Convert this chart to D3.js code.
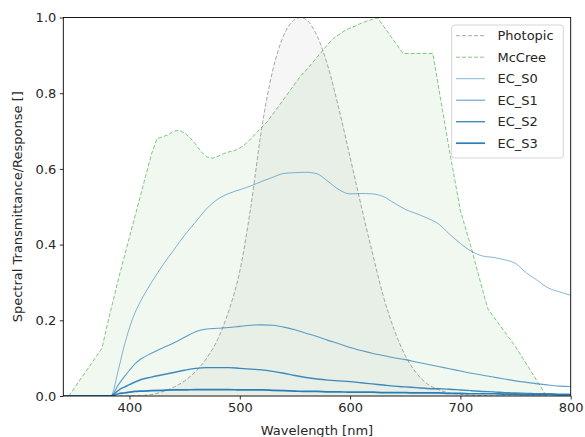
<!DOCTYPE html>
<html>
<head>
<meta charset="utf-8">
<script src="https://cdn.jsdelivr.net/npm/d3@7"></script>
<style>
  html, body { margin: 0; padding: 0; background: #fff; }
  svg { display: block; }
  text { font-family: "DejaVu Sans", sans-serif; fill: #262626; }
</style>
</head>
<body>
<svg id="chart" width="585" height="437"></svg>
<script>
// ---- data ----
const xTicks = [400, 500, 600, 700, 800];
const yTicks = [0.0, 0.2, 0.4, 0.6, 0.8, 1.0];

const photopicWl = [380, 390, 400, 410, 420, 430, 440, 450, 460, 470, 480, 490, 500, 510, 520, 530, 540, 550, 555, 560, 570, 580, 590, 600, 610, 620, 630, 640, 650, 660, 670, 680, 690, 700, 710, 720, 730, 740, 750, 760, 770, 780];
const photopicVals = [0.0000, 0.0001, 0.0004, 0.0012, 0.004, 0.0116, 0.023, 0.04, 0.065, 0.1, 0.15, 0.225, 0.33, 0.5, 0.71, 0.862, 0.954, 0.995, 1.0, 0.995, 0.952, 0.87, 0.757, 0.631, 0.503, 0.381, 0.265, 0.175, 0.107, 0.061, 0.032, 0.017, 0.0082, 0.0041, 0.0021, 0.001, 0.0005, 0.00025, 0.00012, 0.00006, 0.00003, 0.000015];

const mccreeWl = [345, 375, 380, 385, 390, 400, 410, 420, 425, 430, 435, 440, 445, 450, 455, 460, 465, 470, 475, 480, 485, 490, 495, 500, 505, 510, 515, 520, 525, 530, 535, 540, 545, 550, 555, 560, 565, 570, 575, 580, 585, 590, 595, 600, 605, 610, 615, 620, 625, 648, 675, 690, 700, 710, 722, 725, 750, 763, 778];
const mccreeVals = [0.0, 0.126, 0.19, 0.25, 0.31, 0.42, 0.53, 0.64, 0.68, 0.685, 0.69, 0.70, 0.702, 0.695, 0.682, 0.665, 0.645, 0.632, 0.628, 0.633, 0.64, 0.645, 0.648, 0.655, 0.665, 0.68, 0.695, 0.71, 0.725, 0.745, 0.765, 0.785, 0.805, 0.825, 0.845, 0.86, 0.877, 0.895, 0.912, 0.93, 0.945, 0.955, 0.965, 0.972, 0.978, 0.985, 0.99, 0.995, 0.999, 0.905, 0.905, 0.65, 0.49, 0.39, 0.26, 0.23, 0.13, 0.07, 0.0];

const ecWl = [340, 380, 383, 390, 395, 400, 405, 410, 420, 430, 440, 450, 460, 470, 480, 490, 500, 510, 520, 530, 540, 550, 560, 570, 580, 590, 600, 610, 620, 630, 640, 650, 660, 670, 680, 690, 700, 710, 720, 730, 740, 750, 760, 770, 780, 790, 800];
const ecS0 = [0, 0, 0, 0.07, 0.13, 0.18, 0.22, 0.25, 0.30, 0.345, 0.385, 0.425, 0.46, 0.495, 0.52, 0.535, 0.545, 0.555, 0.567, 0.578, 0.588, 0.59, 0.591, 0.587, 0.567, 0.545, 0.534, 0.535, 0.534, 0.527, 0.51, 0.493, 0.482, 0.47, 0.455, 0.428, 0.403, 0.382, 0.37, 0.366, 0.36, 0.35, 0.325, 0.305, 0.285, 0.275, 0.266];
const ecS1 = [0, 0, 0, 0.03, 0.05, 0.068, 0.085, 0.097, 0.113, 0.127, 0.14, 0.155, 0.17, 0.177, 0.179, 0.181, 0.184, 0.187, 0.188, 0.187, 0.182, 0.175, 0.166, 0.157, 0.147, 0.138, 0.128, 0.12, 0.113, 0.107, 0.101, 0.096, 0.09, 0.084, 0.078, 0.072, 0.066, 0.06, 0.055, 0.05, 0.045, 0.04, 0.036, 0.032, 0.029, 0.026, 0.025];
const ecS2 = [0, 0, 0, 0.015, 0.023, 0.03, 0.037, 0.043, 0.05, 0.056, 0.062, 0.068, 0.073, 0.075, 0.075, 0.075, 0.073, 0.071, 0.069, 0.065, 0.06, 0.054, 0.049, 0.045, 0.042, 0.04, 0.038, 0.035, 0.032, 0.029, 0.026, 0.024, 0.022, 0.02, 0.019, 0.018, 0.016, 0.014, 0.012, 0.011, 0.009, 0.008, 0.007, 0.006, 0.006, 0.005, 0.005];
const ecS3 = [0, 0, 0, 0.006, 0.008, 0.01, 0.012, 0.013, 0.014, 0.015, 0.016, 0.016, 0.017, 0.017, 0.017, 0.017, 0.016, 0.016, 0.016, 0.015, 0.014, 0.013, 0.012, 0.012, 0.011, 0.011, 0.01, 0.01, 0.01, 0.009, 0.009, 0.009, 0.008, 0.008, 0.008, 0.007, 0.007, 0.006, 0.006, 0.006, 0.005, 0.005, 0.004, 0.004, 0.004, 0.003, 0.003];

const ecNames = ["EC_S0", "EC_S1", "EC_S2", "EC_S3"];
const ecSeries = [ecS0, ecS1, ecS2, ecS3];

// ---- layout / style ----
const W = 585, H = 437;
const m = { left: 63.3, right: 585 - 570.7, top: 17.5, bottom: 437 - 396 };
const blue = "#1f77b4";
const ecStyle = [
  { opacity: 0.6, width: 0.9 },
  { opacity: 0.7, width: 1.1 },
  { opacity: 0.85, width: 1.4 },
  { opacity: 0.95, width: 1.7 }
];

const svg = d3.select("#chart");
const x = d3.scaleLinear().domain([340, 800]).range([m.left, W - m.right]);
const y = d3.scaleLinear().domain([0, 1]).range([H - m.bottom, m.top]);

const clip = svg.append("defs").append("clipPath").attr("id", "plotclip")
  .append("rect").attr("x", m.left).attr("y", m.top)
  .attr("width", W - m.left - m.right).attr("height", H - m.top - m.bottom);

const plot = svg.append("g").attr("clip-path", "url(#plotclip)");

const zip = (xs, ys) => xs.map((v, i) => [v, ys[i]]);
const photopic = zip(photopicWl, photopicVals);
const mccree = zip(mccreeWl, mccreeVals);

const areaSmooth = d3.area().x(d => x(d[0])).y0(y(0)).y1(d => y(d[1])).curve(d3.curveMonotoneX);
const areaLin = d3.area().x(d => x(d[0])).y0(y(0)).y1(d => y(d[1]));
const lineSmooth = d3.line().x(d => x(d[0])).y(d => y(d[1])).curve(d3.curveMonotoneX);
const lineLin = d3.line().x(d => x(d[0])).y(d => y(d[1]));

// fills
plot.append("path").attr("d", areaSmooth(photopic)).attr("fill", "#808080").attr("fill-opacity", 0.07);
plot.append("path").attr("d", areaLin(mccree)).attr("fill", "#2ca02c").attr("fill-opacity", 0.07);

// dashed lines
plot.append("path").attr("d", lineSmooth(photopic)).attr("fill", "none")
  .attr("stroke", "#8c8c8c").attr("stroke-opacity", 0.85).attr("stroke-width", 0.9).attr("stroke-dasharray", "4,2");
plot.append("path").attr("d", lineLin(mccree)).attr("fill", "none")
  .attr("stroke", "#2ca02c").attr("stroke-opacity", 0.65).attr("stroke-width", 0.9).attr("stroke-dasharray", "4,2");

// EC lines
ecSeries.forEach((s, i) => {
  plot.append("path").attr("d", lineSmooth(zip(ecWl, s))).attr("fill", "none")
    .attr("stroke", blue).attr("stroke-opacity", ecStyle[i].opacity).attr("stroke-width", ecStyle[i].width);
});

// axes
const xAxis = svg.append("g").attr("transform", `translate(0,${H - m.bottom})`)
  .call(d3.axisBottom(x).tickValues(xTicks).tickSize(3.5).tickPadding(3.5).tickFormat(d3.format("d")));
const yAxis = svg.append("g").attr("transform", `translate(${m.left},0)`)
  .call(d3.axisLeft(y).tickValues(yTicks).tickSize(3.5).tickPadding(3.5).tickFormat(d3.format(".1f")));
[xAxis, yAxis].forEach(a => {
  a.select(".domain").remove();
  a.selectAll(".tick line").attr("stroke", "#000").attr("stroke-width", 0.8);
  a.selectAll(".tick text").attr("font-size", 13).attr("font-family", "DejaVu Sans, sans-serif").attr("fill", "#262626");
});

// frame
svg.append("rect").attr("x", m.left).attr("y", m.top)
  .attr("width", W - m.left - m.right).attr("height", H - m.top - m.bottom)
  .attr("fill", "none").attr("stroke", "#000").attr("stroke-width", 0.9);

// axis labels
svg.append("text").attr("x", (m.left + W - m.right) / 2).attr("y", 434.5)
  .attr("text-anchor", "middle").attr("font-size", 13).text("Wavelength [nm]");
svg.append("text").attr("transform", `translate(21.5,${(m.top + H - m.bottom) / 2}) rotate(-90)`)
  .attr("text-anchor", "middle").attr("font-size", 13).text("Spectral Transmittance/Response []");

// legend
const lg = svg.append("g");
lg.append("rect").attr("x", 451.7).attr("y", 25).attr("width", 111.6).attr("height", 133)
  .attr("rx", 3).attr("fill", "#fff").attr("fill-opacity", 0.8).attr("stroke", "#d0d0d0").attr("stroke-width", 0.9);
const legendItems = [
  { name: "Photopic", color: "#8c8c8c", op: 0.85, w: 0.9, dash: "4,2" },
  { name: "McCree", color: "#2ca02c", op: 0.65, w: 0.9, dash: "4,2" }
].concat(ecNames.map((n, i) => ({ name: n, color: blue, op: ecStyle[i].opacity, w: ecStyle[i].width, dash: null })));
legendItems.forEach((d, i) => {
  const cy = 35.7 + i * 21.5;
  lg.append("line").attr("x1", 456).attr("x2", 485).attr("y1", cy).attr("y2", cy)
    .attr("stroke", d.color).attr("stroke-opacity", d.op).attr("stroke-width", d.w)
    .attr("stroke-dasharray", d.dash);
  lg.append("text").attr("x", 497.5).attr("y", cy).attr("dy", "0.36em").attr("font-size", 13).text(d.name);
});
</script>
</body>
</html>
